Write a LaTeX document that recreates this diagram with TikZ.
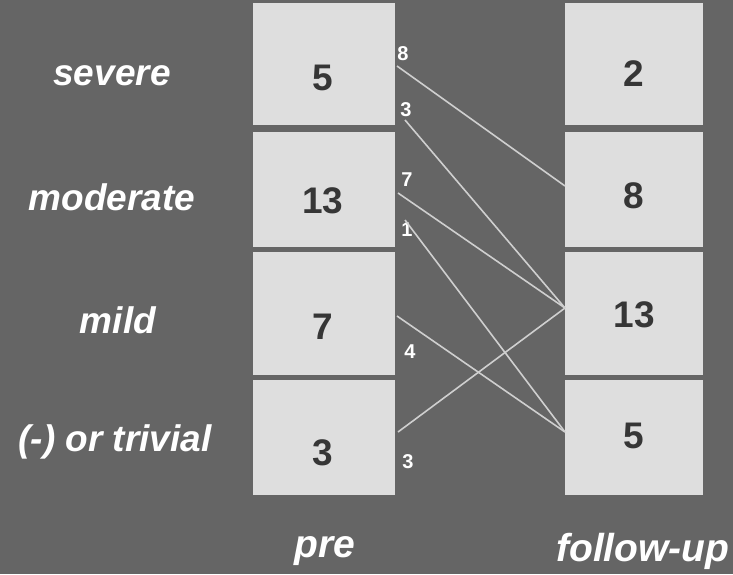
\documentclass[tikz,border=0pt]{standalone}
\usepackage{fontspec}
\setmainfont{Liberation Sans}
\definecolor{bg}{HTML}{656565}
\definecolor{boxfill}{HTML}{DEDEDE}
\definecolor{numcol}{HTML}{363636}
\definecolor{linecol}{HTML}{CFCFCF}
\begin{document}
\begin{tikzpicture}[x=1pt,y=-1pt,
  cell/.style={fill=boxfill, draw=none, inner sep=0pt, minimum width=#1},
  num/.style={text=numcol, font=\fontsize{37}{37}\selectfont\bfseries, inner sep=0pt},
  cat/.style={text=white, font=\fontsize{37}{37}\selectfont\bfseries\itshape, inner sep=0pt},
  axis/.style={text=white, font=\fontsize{39}{39}\selectfont\bfseries\itshape, inner sep=0pt},
  small/.style={text=white, font=\fontsize{20}{20}\selectfont\bfseries, inner sep=0pt},
  flow/.style={draw=linecol, line width=1.6pt}]
\useasboundingbox (0,0) rectangle (733,574);
\fill[bg] (0,0) rectangle (733,574);
% pre column
\node[cell=142, minimum height=122] (p1) at (324,64) {};
\node[cell=142, minimum height=115] (p2) at (324,189.5) {};
\node[cell=142, minimum height=123] (p3) at (324,313.5) {};
\node[cell=142, minimum height=115] (p4) at (324,437.5) {};
% follow-up column
\node[cell=138, minimum height=122] (f1) at (634,64) {};
\node[cell=138, minimum height=115] (f2) at (634,189.5) {};
\node[cell=138, minimum height=123] (f3) at (634,313.5) {};
\node[cell=138, minimum height=115] (f4) at (634,437.5) {};
% numbers
\node[num] (np1) at (323,78) {5};
\node[num] (np2) at (323,201) {13};
\node[num] (np3) at (323,327) {7};
\node[num] (np4) at (323,453) {3};
\node[num] (nf1) at (634,74) {2};
\node[num] (nf2) at (634,196) {8};
\node[num] (nf3) at (634,315) {13};
\node[num] (nf4) at (634,436) {5};
% category labels
\node[cat] (c1) at (112,76) {severe};
\node[cat] (c2) at (112,197) {moderate};
\node[cat] (c3) at (118,320) {mild};
\node[cat] (c4) at (115,442) {(-) or trivial};
\node[axis] (lpre) at (325,551) {pre};
\node[axis, anchor=west] (lfu) at (556,551) {follow-up};
% small counts
\node[small] (s1) at (403,54) {8};
\node[small] (s2) at (406,110) {3};
\node[small] (s3) at (407,180) {7};
\node[small] (s4) at (407,230) {1};
\node[small] (s5) at (410,352) {4};
\node[small] (s6) at (408,462) {3};
% flow endpoints
\coordinate (a1) at (397,66);
\coordinate (a2) at (405,120);
\coordinate (a3) at (398,193);
\coordinate (a4) at (405,220);
\coordinate (a5) at (397,316);
\coordinate (a6) at (398,432);
\coordinate (b2) at (565,186);
\coordinate (b3) at (565,308);
\coordinate (b4) at (565,432);
\draw[flow] (a1) -- (b2);
\draw[flow] (a2) -- (b3);
\draw[flow] (a3) -- (b3);
\draw[flow] (a4) -- (b4);
\draw[flow] (a5) -- (b4);
\draw[flow] (a6) -- (b3);
\end{tikzpicture}
\end{document}
